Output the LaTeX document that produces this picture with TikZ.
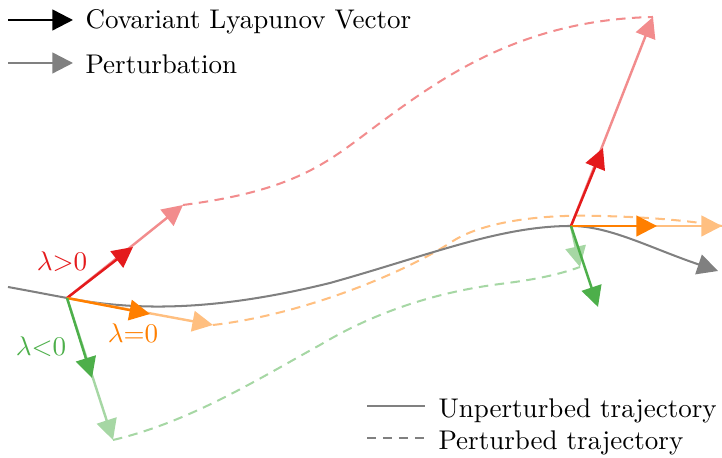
\documentclass[tikz,border=0pt]{standalone}
\usepackage{fontspec}
\usetikzlibrary{arrows.meta}
\definecolor{cred}{HTML}{E41A1C}
\definecolor{credl}{HTML}{F28C8D}
\definecolor{corg}{HTML}{FF7F00}
\definecolor{corgl}{HTML}{FFBF80}
\definecolor{cgrn}{HTML}{4DAF4A}
\definecolor{cgrnl}{HTML}{A6D7A4}
\definecolor{cgry}{HTML}{808080}
\tikzset{
  tip/.tip={Triangle[length=7.6pt,width=7.6pt]},
  vec/.style={line width=0.9pt, -tip},
  traj/.style={line width=0.75pt, cgry},
  ptraj/.style={line width=0.75pt, dash pattern=on 3.5pt off 2.4pt},
  legtext/.style={anchor=base west, inner sep=0pt},
  lab/.style={inner sep=0pt}
}
\begin{document}
\begin{tikzpicture}[x=0.37pt,y=-0.37pt]
\useasboundingbox (0,0) rectangle (722,458);
% key points
\coordinate (A) at (67,298);
\coordinate (B) at (571,226);
\coordinate (Ard) at (133,247);
\coordinate (Arl) at (183,205);
\coordinate (Aod) at (150,314);
\coordinate (Aol) at (213,325);
\coordinate (Agd) at (92,378);
\coordinate (Agl) at (113,440);
\coordinate (Brd) at (603,148);
\coordinate (Brl) at (653,17);
\coordinate (Bod) at (657,226);
\coordinate (Bol) at (722,226);
\coordinate (Bgd) at (598,307);
\coordinate (Bgl) at (580,267);
\coordinate (S) at (8,287);
\coordinate (E) at (718,271);

% perturbed trajectories
\draw[ptraj, credl] (Arl) .. controls (300,190) and (330,160) .. (380,123)
  .. controls (440,79) and (520,20) .. (Brl);
\draw[ptraj, corgl] (Aol) .. controls (300,315) and (400,275) .. (450,243)
  .. controls (480,222) and (540,214) .. (600,216)
  .. controls (650,217) and (690,221) .. (Bol);
\draw[ptraj, cgrnl] (Agl) .. controls (190,422) and (260,378) .. (320,345)
  .. controls (370,315) and (430,293) .. (500,284)
  .. controls (540,279) and (560,274) .. (Bgl);

% unperturbed trajectory
\draw[traj, -tip] (S) .. controls (30,291) and (48,294.5) .. (A)
  .. controls (140,312) and (220,310) .. (330,283)
  .. controls (430,255) and (500,226) .. (B)
  .. controls (610,226) and (650,248) .. (E);

% perturbation arrows (light)
\draw[vec, credl] (A) -- (Arl);
\draw[vec, corgl] (A) -- (Aol);
\draw[vec, cgrnl] (A) -- (Agl);
\draw[vec, credl] (B) -- (Brl);
\draw[vec, corgl] (B) -- (Bol);
\draw[vec, cgrnl] (B) -- (Bgl);
% CLVs (dark)
\draw[vec, cred] (A) -- (Ard);
\draw[vec, corg] (A) -- (Aod);
\draw[vec, cgrn] (A) -- (Agd);
\draw[vec, cred] (B) -- (Brd);
\draw[vec, corg] (B) -- (Bod);
\draw[vec, cgrn] (B) -- (Bgd);

% lambda labels
\node[lab, text=cred] (lp) at (62,262) {$\lambda{>}0$};
\node[lab, text=corg] (lz) at (133,333) {$\lambda{=}0$};
\node[lab, text=cgrn] (ln) at (41,347) {$\lambda{<}0$};

% top legend
\coordinate (l1a) at (8,20);
\coordinate (l1b) at (73,20);
\coordinate (l2a) at (8,63);
\coordinate (l2b) at (73,63);
\draw[vec, black] (l1a) -- (l1b);
\draw[vec, cgry] (l2a) -- (l2b);
\node[legtext] (t1) at (85,29) {Covariant Lyapunov Vector};
\node[legtext] (t2) at (85,74) {Perturbation};

% bottom legend
\coordinate (l3a) at (367,406);
\coordinate (l3b) at (425,406);
\coordinate (l4a) at (367,438);
\coordinate (l4b) at (425,438);
\draw[traj] (l3a) -- (l3b);
\draw[ptraj, cgry] (l4a) -- (l4b);
\node[legtext] (t3) at (438,418) {Unperturbed trajectory};
\node[legtext] (t4) at (438,450) {Perturbed trajectory};
\end{tikzpicture}
\end{document}
